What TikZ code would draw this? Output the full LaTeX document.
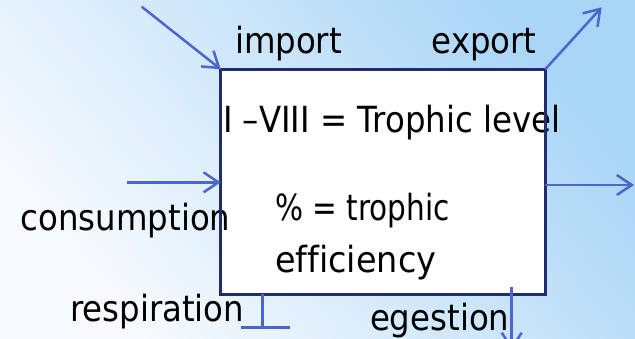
\documentclass[tikz,border=0pt]{standalone}
\usepackage{fontspec}
\setmainfont[Ligatures=NoCommon]{DejaVu Sans}
\usetikzlibrary{arrows.meta}
\definecolor{bgblue}{HTML}{A9D5F6}
\definecolor{bgwhite}{HTML}{F8FBFE}
\definecolor{navy}{HTML}{1F2C6E}
\definecolor{arrowblue}{HTML}{4D65CC}
\newcommand{\sq}[1]{\scalebox{0.9}[1]{#1}}
\tikzset{
  lbl/.style={anchor=base west, inner sep=0pt, outer sep=0pt, font=\fontsize{36bp}{42bp}\selectfont, text=black},
  flow/.style={draw=arrowblue, line width=2.5bp, -{Straight Barb[length=15bp, width=20bp, line width=2.5bp]}},
  plainflow/.style={draw=arrowblue, line width=2.5bp},
}
\begin{document}
\begin{tikzpicture}[x=1bp, y=1bp]
\useasboundingbox (0,0) rectangle (635,338);
\begin{scope}
\clip (0,0) rectangle (635,338);
\shade[top color=bgblue, bottom color=bgwhite, shading angle=-50] (0,0) rectangle (635,338);

\node[fill=white, inner sep=0pt, minimum width=324bp, minimum height=224.5bp] (box) at (383,156.25) {};

\node[lbl] (import) at (235,285) {\sq{import}};
\node[lbl] (export) at (431.7,285) {\sq{export}};
\node[lbl] (title) at (223,206) {\sq{I –VIII = Trophic level}};
\node[lbl] (cons) at (20.7,108) {\sq{consumption}};
\node[lbl] (pct) at (275,118) {\scalebox{0.82}[1]{\% = trophic}};
\node[lbl] (eff) at (275,66) {\scalebox{0.93}[1]{efficiency}};
\node[lbl] (resp) at (70,16.3) {\sq{respiration}};
\node[lbl] (eges) at (370,8) {\sq{egestion}};

\draw[navy, line width=3bp] (box.south west) rectangle (box.north east);

\coordinate (impstart) at (141.7,331.3);
\coordinate (expend) at (601.7,330.7);
\coordinate (consstart) at (126.7,155.7);
\coordinate (outstart) at (545,153);
\coordinate (outend) at (634,153);
\coordinate (resptop) at (262.7,44);
\coordinate (respbot) at (262.7,10.5);
\coordinate (respL) at (240.7,10.5);
\coordinate (respR) at (290,10.5);
\coordinate (egtop) at (511.7,51);
\coordinate (egbot) at (511.7,-12);

\draw[flow] (impstart) -- (box.north west);
\draw[flow] (box.north east) -- (expend);
\draw[flow] (consstart) -- (consstart -| box.west);
\draw[flow] (outstart) -- (outend);
\draw[plainflow] (resptop) -- (respbot);
\draw[plainflow] (respL) -- (respR);
\draw[flow] (egtop) -- (egbot);
\end{scope}
\end{tikzpicture}
\end{document}
